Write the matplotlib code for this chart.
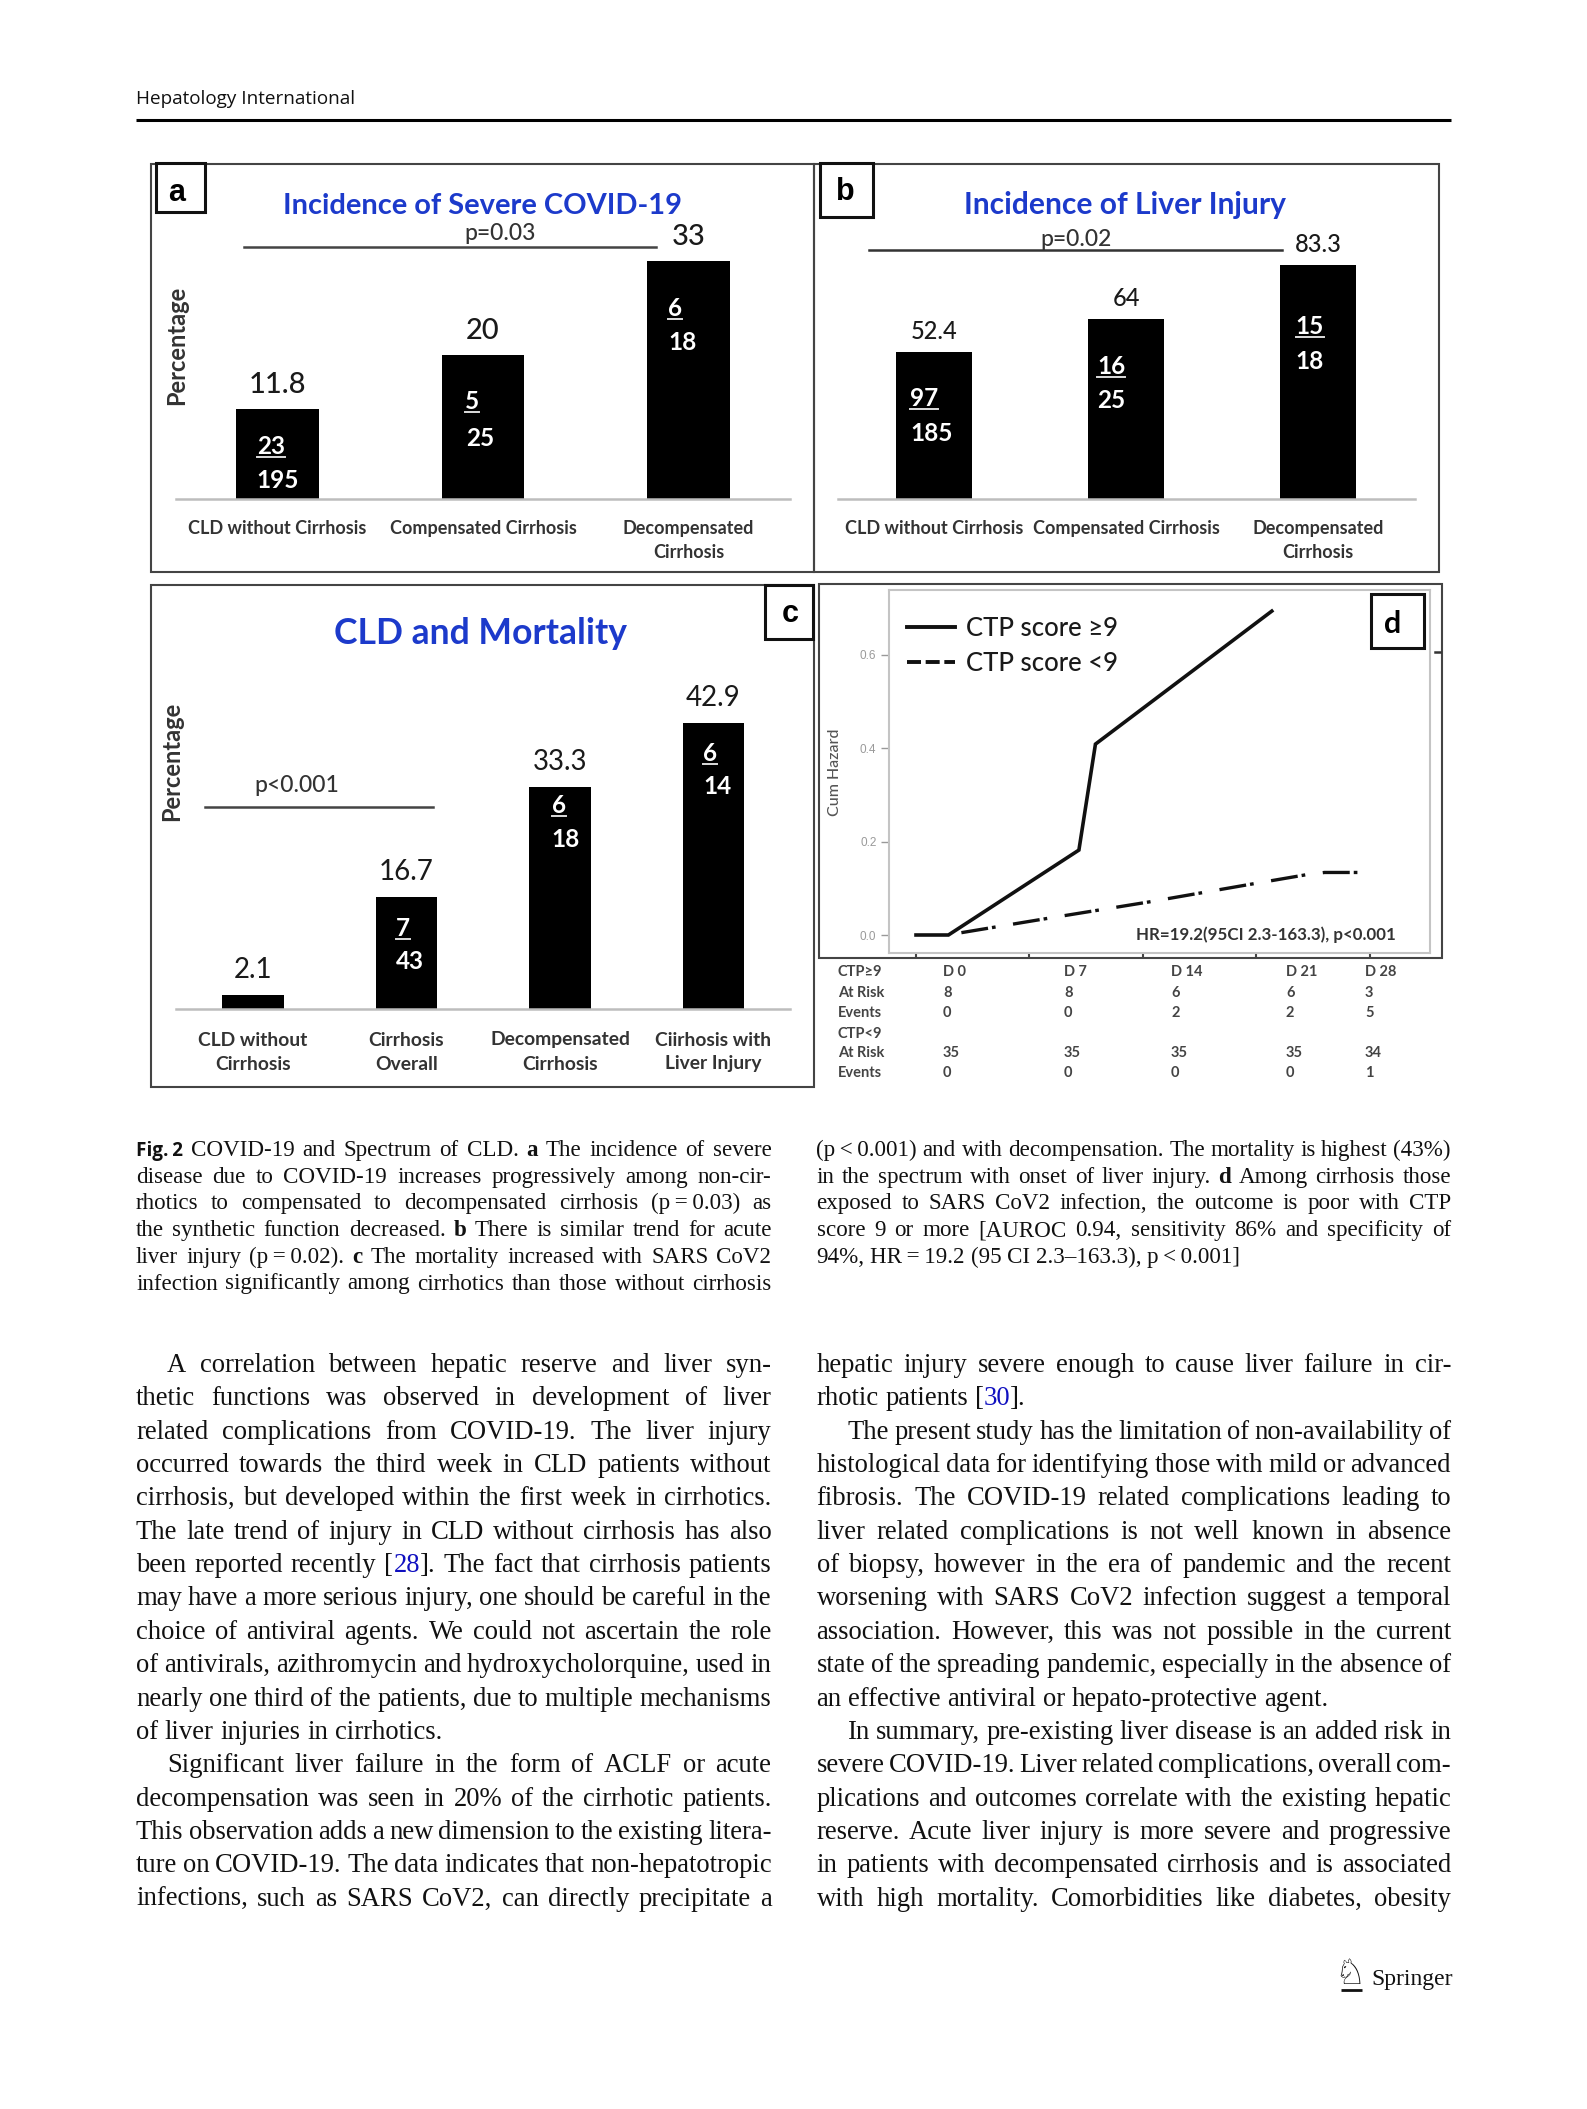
#!/usr/bin/python3
# journal page with a four panel figure (a-d) and two columns of text
import re

import matplotlib

matplotlib.use("Agg")
import matplotlib.pyplot as plt
from matplotlib.lines import Line2D
from matplotlib.patches import Rectangle

W, H = 1587, 2109
BLUE = "#1c3acb"
DARK = "#333333"

# panel a:
a_cats = ["CLD without Cirrhosis", "Compensated Cirrhosis", "Decompensated\nCirrhosis"]
a_vals = [12.5, 20, 33]
a_labels = ["11.8", "20", "33"]
a_frac = [("23", "195"), ("5", "25"), ("6", "18")]
# panel b:
b_cats = a_cats
b_vals = [52.4, 64, 83.3]
b_labels = ["52.4", "64", "83.3"]
b_frac = [("97", "185"), ("16", "25"), ("15", "18")]
# panel c:
c_cats = ["CLD without\nCirrhosis", "Cirrhosis\nOverall", "Decompensated\nCirrhosis", "Ciirhosis with\nLiver Injury"]
c_vals = [2.0, 16.7, 33.3, 42.9]
c_labels = ["2.1", "16.7", "33.3", "42.9"]
c_frac = [("7", "43"), ("6", "18"), ("6", "14")]
# panel d:
d_days_hi = [0, 2.0, 10.05, 11.07, 21.95]
d_haz_hi = [0, 0, 0.182, 0.409, 0.694]
d_days_lo = [2.8, 8.18, 14.4, 20.85, 24.05, 25.2, 27.3]
d_haz_lo = [0.005, 0.036, 0.071, 0.110, 0.129, 0.134, 0.134]
d_xticks = [0, 7, 14, 21, 28]
d_yticks = [0.0, 0.2, 0.4, 0.6]
risk_head = ["D 0", "D 7", "D 14", "D 21", "D 28"]
risk_rows = [
    ("CTP≥9", risk_head),
    ("At Risk", ["8", "8", "6", "6", "3"]),
    ("Events", ["0", "0", "2", "2", "5"]),
    ("CTP<9", []),
    ("At Risk", ["35", "35", "35", "35", "34"]),
    ("Events", ["0", "0", "0", "0", "1"]),
]

# page text: *bold*, ^sans bold^, {blue}; ">" = indent, "<" = last line of paragraph
caption_left = [
    "^Fig.\u20092^  COVID-19 and Spectrum of CLD. *a* The incidence of severe",
    "disease due to COVID-19 increases progressively among non-cir-",
    "rhotics to compensated to decompensated cirrhosis (p\u2009=\u20090.03) as",
    "the synthetic function decreased. *b* There is similar trend for acute",
    "liver injury (p\u2009=\u20090.02). *c* The mortality increased with SARS CoV2",
    "infection significantly among cirrhotics than those without cirrhosis",
]
caption_right = [
    "(p\u2009<\u20090.001) and with decompensation. The mortality is highest (43%)",
    "in the spectrum with onset of liver injury. *d* Among cirrhosis those",
    "exposed to SARS CoV2 infection, the outcome is poor with CTP",
    "score 9 or more [AUROC 0.94, sensitivity 86% and specificity of",
    "<94%, HR\u2009=\u200919.2 (95 CI 2.3–163.3), p\u2009<\u20090.001]",
]
body_left = [
    ">A correlation between hepatic reserve and liver syn-",
    "thetic functions was observed in development of liver",
    "related complications from COVID-19. The liver injury",
    "occurred towards the third week in CLD patients without",
    "cirrhosis, but developed within the first week in cirrhotics.",
    "The late trend of injury in CLD without cirrhosis has also",
    "been reported recently [{28}]. The fact that cirrhosis patients",
    "may have a more serious injury, one should be careful in the",
    "choice of antiviral agents. We could not ascertain the role",
    "of antivirals, azithromycin and hydroxycholorquine, used in",
    "nearly one third of the patients, due to multiple mechanisms",
    "<of liver injuries in cirrhotics.",
    ">Significant liver failure in the form of ACLF or acute",
    "decompensation was seen in 20% of the cirrhotic patients.",
    "This observation adds a new dimension to the existing litera-",
    "ture on COVID-19. The data indicates that non-hepatotropic",
    "infections, such as SARS CoV2, can directly precipitate a",
]
body_right = [
    "hepatic injury severe enough to cause liver failure in cir-",
    "<rhotic patients [{30}].",
    ">The present study has the limitation of non-availability of",
    "histological data for identifying those with mild or advanced",
    "fibrosis. The COVID-19 related complications leading to",
    "liver related complications is not well known in absence",
    "of biopsy, however in the era of pandemic and the recent",
    "worsening with SARS CoV2 infection suggest a temporal",
    "association. However, this was not possible in the current",
    "state of the spreading pandemic, especially in the absence of",
    "<an effective antiviral or hepato-protective agent.",
    ">In summary, pre-existing liver disease is an added risk in",
    "severe COVID-19. Liver related complications, overall com-",
    "plications and outcomes correlate with the existing hepatic",
    "reserve. Acute liver injury is more severe and progressive",
    "in patients with decompensated cirrhosis and is associated",
    "with high mortality. Comorbidities like diabetes, obesity",
]

fig = plt.figure(figsize=(W / 100, H / 100), dpi=100, facecolor="white")
# page layer in pixel coordinates, on top of the panels:
page = fig.add_axes([0, 0, 1, 1], zorder=10)
page.set_xlim(0, W)
page.set_ylim(H, 0)
page.axis("off")
renderer = fig.canvas.get_renderer()


def put(x, y, s, size, family="Lato", weight="normal", color="black", ha="center", va="center", **kw):
    if va == "center" and "rotation" not in kw:
        y += size * 0.13  # center of the digits, not of the line box
    return page.text(x, y, s, fontsize=size, family=family, weight=weight, color=color, ha=ha, va=va, **kw)


def width_of(t):
    return t.get_window_extent(renderer).width


def fit(t, target):
    # scale the font so the text gets the measured width
    t.set_fontsize(t.get_fontsize() * target / width_of(t))


def bar_axes(x0, x1, y_base, y_top, c0, step, px_per_unit, vals, labels, cats, tick_size, label_size, pad, gap, label_weight="medium"):
    ax = fig.add_axes([x0 / W, 1 - y_base / H, (x1 - x0) / W, (y_base - y_top) / H])
    ax.patch.set_alpha(0)
    ax.set_xlim((x0 - c0) / step, (x1 - c0) / step)
    ax.set_ylim(0, (y_base - y_top) / px_per_unit)
    pos = list(range(len(vals)))
    ax.bar(pos, vals, width=0.4, color="black")
    for s in ("left", "right", "top"):
        ax.spines[s].set_visible(False)
    ax.spines["bottom"].set(color="#bdbdbd", linewidth=1.8)
    ax.set_yticks([])
    ax.set_xticks(pos)
    ax.set_xticklabels(cats, family="Lato", weight="bold", fontsize=tick_size, color=DARK, linespacing=1.5)
    ax.tick_params(axis="x", length=0, pad=pad * 0.72)
    for p, v, s in zip(pos, vals, labels):
        ax.annotate(s, (p, v), xytext=(0, gap * 0.72), textcoords="offset points", ha="center", va="center",
                    family="Lato", fontsize=label_size, weight=label_weight, color="#1a1a1a")
    return ax


def fraction(x_num, y_num, x_den, y_den, num, den):
    t = put(x_num, y_num - 1.5, num, 17.5, weight="bold", color="white")
    w = width_of(t)
    page.plot([x_num - w / 2, x_num + w / 2], [y_num + 11, y_num + 11], color="#dddddd", lw=1.4)
    put(x_den, y_den - 1.5, den, 17.5, weight="bold", color="white")


def label_box(x0, x1, y0, y1, s, tx, ty, family="Liberation Sans"):
    page.add_patch(Rectangle((x0, y0), x1 - x0, y1 - y0, fc="white", ec="#111111", lw=2.2, zorder=3))
    put(tx, ty, s, 22, family=family, weight="bold", zorder=4)


def write_line(x0, x1, y, line, size):
    # one line of page text, justified by spreading the words
    justify = True
    if line[0] == ">":
        x0 += 31
        line = line[1:]
    elif line[0] == "<":
        justify = False
        line = line[1:]
    boxes = []
    for word in [w for w in line.split(" ") if w]:
        runs = []
        for bit in re.findall(r"\*[^*]+\*|\^[^^]+\^|\{[^}]+\}|[^*^{}]+", word):
            style = dict(family="Liberation Serif", color="#111111", weight="normal")
            if bit[0] == "*":
                style["weight"] = "bold"
            elif bit[0] == "^":
                style.update(family="Open Sans", weight="bold", size=size * 0.82)
            elif bit[0] == "{":
                style["color"] = "#1010c0"
            style.setdefault("size", size)
            t = page.text(0, y, bit.strip("*^{}"), va="baseline", ha="left", **style)
            runs.append(t)
        boxes.append(runs)
    space = size / 0.72 * 0.25
    widths = [sum(width_of(t) for t in runs) for runs in boxes]
    if justify and len(boxes) > 1:
        space = (x1 - x0 - sum(widths)) / (len(boxes) - 1)
    x = x0
    for runs, w in zip(boxes, widths):
        cx = x
        for t in runs:
            t.set_x(cx)
            cx += width_of(t)
        x += w + space


# frames of the panels:
for x0, x1, y0, y1 in [(151, 814, 164, 572), (814, 1439, 164, 572), (151, 814, 585, 1087), (819, 1442, 584, 958)]:
    page.add_patch(Rectangle((x0, y0), x1 - x0, y1 - y0, fc="none", ec="#444444", lw=1.5))

# panel a:
bar_axes(176, 790, 499, 170, 277.5, 205.5, 7.22, a_vals, a_labels, a_cats, 13, 21, 21, 24)
fit(put(482.5, 203, "Incidence of Severe COVID-19", 20, weight="bold", color=BLUE), 400)
put(500, 231, "p=0.03", 16.5, weight="medium", color=DARK)
page.plot([244, 656], [247, 247], color="#444444", lw=1.8)
put(177, 345, "Percentage", 17, weight="bold", color=DARK, rotation=90)
for (num, den), (xn, yn, xd, yd) in zip(a_frac, [(271, 446, 278, 480), (472, 401, 480, 438), (675, 308, 683, 342)]):
    fraction(xn, yn, xd, yd, num, den)
label_box(156, 205, 163, 212, "a", 177, 190)

# panel b:
bar_axes(838, 1415, 499, 170, 934, 192, 2.81, b_vals, b_labels, b_cats, 13, 17, 21, 20.5)
fit(put(1125, 202, "Incidence of Liver Injury", 20, weight="bold", color=BLUE), 322)
put(1076, 237, "p=0.02", 16.5, weight="medium", color=DARK)
page.plot([869, 1282], [250, 250], color="#333333", lw=1.8)
for (num, den), (xn, yn, xd, yd) in zip(b_frac, [(924, 398, 932, 433), (1111, 366, 1111, 400), (1310, 326, 1310, 361)]):
    fraction(xn, yn, xd, yd, num, den)
label_box(820, 873, 163, 217, "b", 845, 189)

# panel c:
bar_axes(176, 790, 1008.5, 660, 253, 153.5, 6.65, c_vals, c_labels, c_cats, 13.9, 20, 23, 25.5, label_weight="normal")
fit(put(481, 631, "CLD and Mortality", 22, weight="bold", color=BLUE), 292)
put(297, 783, "p<0.001", 16.5, weight="medium", color=DARK)
page.plot([205, 433], [807, 807], color="#444444", lw=1.8)
put(172, 761, "Percentage", 17, weight="bold", color=DARK, rotation=90)
for (num, den), (xn, yn, xd, yd) in zip(c_frac, [(403, 928, 410, 961), (559, 805, 566, 839), (710, 753, 717, 786)]):
    fraction(xn, yn, xd, yd, num, den)
label_box(765, 813, 585, 639, "c", 790, 611)

# panel d:
x0, x1, y0, y1 = 889, 1430, 590, 953
axd = fig.add_axes([x0 / W, 1 - y1 / H, (x1 - x0) / W, (y1 - y0) / H])
axd.set_xlim((x0 - 916) / 16.21, (x1 - 916) / 16.21)
axd.set_ylim((935 - y1) / 466.7, (935 - y0) / 466.7)
axd.plot(d_days_hi, d_haz_hi, color="#111111", lw=2.6, solid_joinstyle="miter")
axd.plot(d_days_lo, d_haz_lo, color="#111111", lw=2.4, ls=(0, (8.1, 1.2, 1.1, 5.3)))
for s in axd.spines.values():
    s.set(color="#c4c4c4", linewidth=1.5)
axd.set_xticks(d_xticks)
axd.set_xticklabels([])
axd.set_yticks(d_yticks)
axd.set_yticklabels([f"{v:.1f}" for v in d_yticks], family="Liberation Sans", fontsize=8.5, color="#9a9a9a")
axd.tick_params(axis="y", length=6, width=1, color="#999999", pad=3)
axd.tick_params(axis="x", length=3.5, width=1.5, color="#444444", pad=2)
handles = [
    Line2D([], [], color="#111111", lw=2.8),
    Line2D([], [], color="#111111", lw=2.8, ls=(0, (3.6, 1.2))),
]
axd.legend(handles, ["CTP score ≥9", "CTP score <9"], loc="upper left", bbox_to_anchor=((907 - x0) / (x1 - x0), 1 - (616 - y0) / (y1 - y0)),
           frameon=False, prop={"family": ["Lato", "DejaVu Sans"], "size": 18.5, "weight": "medium"}, handlelength=1.87, handletextpad=0.41,
           labelspacing=0.38, borderpad=0, borderaxespad=0, labelcolor="#1a1a1a")
put(835, 772, "Cum Hazard", 11.5, weight="medium", color="#555555", rotation=90)
put(1266, 933, "HR=19.2(95CI 2.3-163.3), p<0.001", 12.2, weight="bold", color=DARK)
label_box(1371, 1424, 594, 648, "d", 1393, 621, family="Lato")
page.plot([1434.5, 1440], [652, 652], color="#333333", lw=1.8)

# numbers at risk below panel d:
col_x = [943, 1064, 1171, 1286, 1365]
row_y = [971, 992, 1012, 1033, 1052, 1072]
for (head, cells), y in zip(risk_rows, row_y):
    put(838, y, head, 10.5, weight="bold", color="#444444", ha="left")
    for x, c in zip(col_x, cells):
        put(x, y, c, 10.5, weight="bold", color="#444444", ha="left")

# running head:
put(136, 97, "Hepatology International", 13.6, family="Open Sans", color="#111111", ha="left")
page.plot([136, 1451], [120, 120], color="black", lw=2.2, solid_capstyle="butt")

# caption and body text:
for lines, x0, x1 in [(caption_left, 136, 771.5), (caption_right, 816.5, 1451)]:
    for i, line in enumerate(lines):
        write_line(x0, x1, 1156 + i * 26.7, line, 16.6)
for lines, x0, x1 in [(body_left, 136, 771.5), (body_right, 816.5, 1451)]:
    for i, line in enumerate(lines):
        write_line(x0, x1, 1372 + i * 33.35, line, 19.2)

# publisher mark:
put(1350, 1971, "♘", 25, family="DejaVu Sans", color="#111111")
page.plot([1341, 1362], [1990, 1990], color="#111111", lw=2, solid_capstyle="butt")
put(1371, 1985, "Springer", 17, family="Liberation Serif", color="#111111", ha="left", va="baseline")

fig.savefig("out.png", dpi=100)
